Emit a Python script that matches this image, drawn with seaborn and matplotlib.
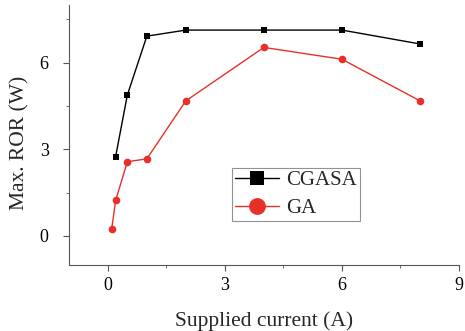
import pandas as pd
import seaborn as sns
import matplotlib
matplotlib.use('Agg')
import matplotlib.pyplot as plt
from matplotlib.ticker import MultipleLocator

# data
current_cgasa = [0.2, 0.5, 1, 2, 4, 6, 8]
ror_cgasa = [2.75, 4.88, 6.92, 7.13, 7.13, 7.13, 6.65]
current_ga = [0.1, 0.2, 0.5, 1, 2, 4, 6, 8]
ror_ga = [0.25, 1.23, 2.57, 2.67, 4.68, 6.53, 6.12, 4.68]

sns.set_style('ticks')
plt.rcParams['font.family'] = ['Liberation Serif', 'DejaVu Serif']
plt.rcParams['axes.edgecolor'] = '#555555'
plt.rcParams['xtick.color'] = '#555555'
plt.rcParams['ytick.color'] = '#555555'

df_c = pd.DataFrame({'x': current_cgasa, 'y': ror_cgasa})
df_g = pd.DataFrame({'x': current_ga, 'y': ror_ga})

fig, ax = plt.subplots(figsize=(4.65, 3.31), dpi=100)
fig.subplots_adjust(left=0.148, right=0.987, top=0.985, bottom=0.2)

sns.lineplot(data=df_c, x='x', y='y', ax=ax, color='black', marker='s',
             markersize=4.5, linewidth=1, markeredgewidth=0, label='CGASA')
sns.lineplot(data=df_g, x='x', y='y', ax=ax, color='#e8302a', marker='o',
             markersize=5.5, linewidth=1, markeredgewidth=0, label='GA')

ax.set_xlim(-1, 9)
ax.set_ylim(-1, 8)
ax.xaxis.set_major_locator(MultipleLocator(3))
ax.xaxis.set_minor_locator(MultipleLocator(1.5))
ax.yaxis.set_major_locator(MultipleLocator(3))
ax.yaxis.set_minor_locator(MultipleLocator(1.5))
ax.tick_params(which='major', length=4, labelsize=13, labelcolor='black')
ax.tick_params(which='minor', length=2.5)
ax.tick_params(axis='x', which='major', pad=5)
ax.tick_params(axis='y', which='major', pad=10.5)
ax.set_xlabel('Supplied current (A)', fontsize=15.5)
ax.set_ylabel('Max. ROR (W)', fontsize=15.5)
ax.xaxis.set_label_coords(0.5, -0.177)
ax.yaxis.set_label_coords(-0.1, 0.47)
sns.despine(ax=ax)

leg = ax.legend(loc='lower left', bbox_to_anchor=(0.417, 0.167), fontsize=15,
                markerscale=2.2, frameon=True, fancybox=False, handlelength=2.15,
                handletextpad=0.3, borderpad=0.15, labelspacing=0.4,
                borderaxespad=0, edgecolor='#777777')
leg.get_frame().set_linewidth(0.8)

plt.savefig('out.png', dpi=100)
